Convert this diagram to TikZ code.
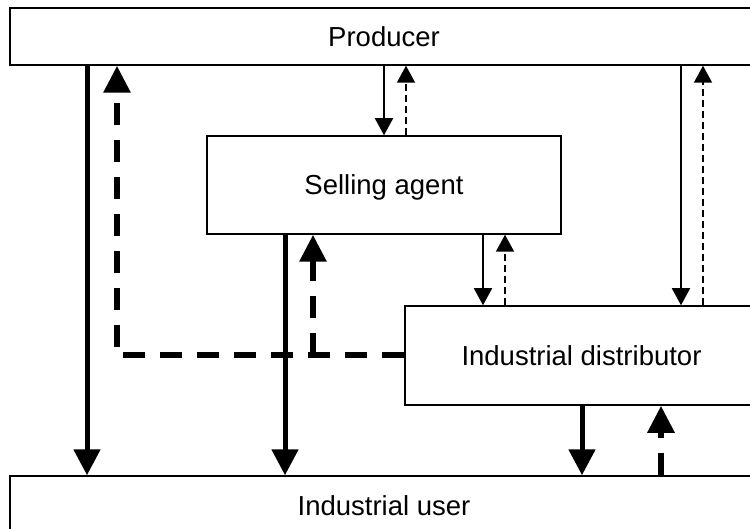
\documentclass[tikz,border=0pt]{standalone}
\usepackage{fontspec}
\setmainfont{Liberation Sans}
\usetikzlibrary{arrows.meta}
\begin{document}
\begin{tikzpicture}[x=1pt,y=-1pt,
  box/.style={draw,line width=1.5pt,rectangle,inner sep=0pt,
    font=\fontsize{27.5}{33}\selectfont,text height=19.7pt,text depth=0pt},
  flowthick/.style={line width=5pt,-{Triangle[width=26pt,length=26pt]}},
  infothick/.style={line width=6pt,dash pattern=on 22pt off 15pt,-{Triangle[width=26pt,length=27pt]}},
  flowthin/.style={line width=1.8pt,-{Triangle[width=18pt,length=17pt]}},
  infothin/.style={line width=2pt,dash pattern=on 7pt off 4pt,-{Triangle[width=18pt,length=17pt]}}]
\useasboundingbox (0,0) rectangle (750,529);
\clip (0,0) rectangle (750,529);

% channel members
\node[box,minimum width=748pt,minimum height=57pt] (prod) at (384,36.5) {Producer};
\node[box,minimum width=354pt,minimum height=98pt] (sa) at (384,185) {Selling agent};
\node[box,minimum width=353pt,minimum height=99pt] (dist) at (581.5,355.5) {Industrial distributor};
\node[box,minimum width=748pt,minimum height=60pt] (user) at (384,506) {Industrial user};

% x positions of the connectors
\coordinate (xa) at (87,0);
\coordinate (xb) at (117,0);
\coordinate (xc) at (285,0);
\coordinate (xd) at (313,0);
\coordinate (xe) at (384,0);
\coordinate (xf) at (406,0);
\coordinate (xg) at (483,0);
\coordinate (xh) at (505,0);
\coordinate (xi) at (681,0);
\coordinate (xj) at (703,0);
\coordinate (xk) at (582,0);
\coordinate (xl) at (661,0);

% heavy product flows to the user
\draw[flowthick] (prod.south -| xa) -- (user.north -| xa);
\draw[flowthick] (sa.south -| xc) -- (user.north -| xc);
\draw[flowthick] (dist.south -| xk) -- (user.north -| xk);

% heavy information flows back
\draw[infothick] (dist.west) -| (prod.south -| xb);
\draw[infothick] (dist.west -| xd) -- (sa.south -| xd);
\draw[infothick] (user.north -| xl) -- (dist.south -| xl);

% light flows between intermediaries
\draw[flowthin] (prod.south -| xe) -- (sa.north -| xe);
\draw[infothin] (sa.north -| xf) -- (prod.south -| xf);
\draw[flowthin] (sa.south -| xg) -- (dist.north -| xg);
\draw[infothin] (dist.north -| xh) -- (sa.south -| xh);
\draw[flowthin] (prod.south -| xi) -- (dist.north -| xi);
\draw[infothin] (dist.north -| xj) -- (prod.south -| xj);
\end{tikzpicture}
\end{document}
